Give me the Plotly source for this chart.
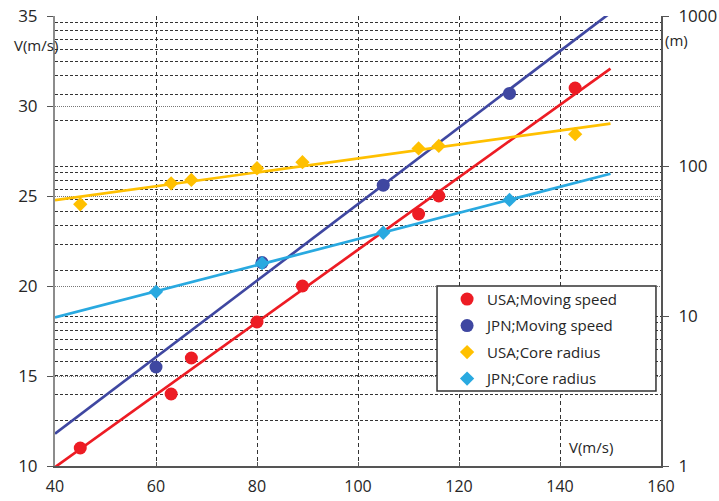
import numpy as np
import plotly.graph_objects as go

# Wind speed (m/s) at which each vortex was observed
usa_v = [45, 63, 67, 80, 89, 112, 116, 143]
jpn_v = [60, 81, 105, 130]

# Moving speed (m/s), left axis
usa_speed = [11, 14, 16, 18, 20, 24, 25, 31]
jpn_speed = [15.5, 21.3, 25.6, 30.7]

# Core radius (m), right log axis
usa_core = [55.6, 76.7, 80.7, 96.6, 106, 131, 136, 163]
jpn_core = [14.5, 22.5, 35.9, 59.4]

x_ticks = [40, 60, 80, 100, 120, 140, 160]
left_ticks = [10, 15, 20, 25, 30, 35]
right_ticks = [1, 10, 100, 1000]
right_minor = [m * d for d in (1, 10, 100) for m in range(2, 10)]

RED = "#ED1C24"
NAVY = "#3F47A1"
GOLD = "#FFC000"
SKY = "#29A9E0"
FONT = "Open Sans"
TXT = "#262626"

fit_x = np.array([40, 150])


def linear_fit(x, y):
    a, b = np.polyfit(x, y, 1)
    return a * fit_x + b


def exp_fit(x, y):
    a, b = np.polyfit(x, np.log10(y), 1)
    return 10 ** (a * fit_x + b)


fig = go.Figure()

# trend lines
fig.add_trace(go.Scatter(x=fit_x, y=linear_fit(usa_v, usa_speed), mode="lines",
                         line=dict(color=RED, width=2.7), showlegend=False, yaxis="y"))
fig.add_trace(go.Scatter(x=fit_x, y=linear_fit(jpn_v, jpn_speed), mode="lines",
                         line=dict(color=NAVY, width=2.7), showlegend=False, yaxis="y"))

# observed points
fig.add_trace(go.Scatter(x=usa_v, y=usa_speed, mode="markers", name="USA;Moving speed",
                         marker=dict(color=RED, size=13, symbol="circle"),
                         legendgroup="a", yaxis="y"))
fig.add_trace(go.Scatter(x=jpn_v, y=jpn_speed, mode="markers", name="JPN;Moving speed",
                         marker=dict(color=NAVY, size=13, symbol="circle"),
                         legendgroup="b", yaxis="y"))

fig.add_trace(go.Scatter(x=fit_x, y=exp_fit(usa_v, usa_core), mode="lines",
                         line=dict(color=GOLD, width=2.7), showlegend=False, yaxis="y2"))
fig.add_trace(go.Scatter(x=fit_x, y=exp_fit(jpn_v, jpn_core), mode="lines",
                         line=dict(color=SKY, width=2.7), showlegend=False, yaxis="y2"))
fig.add_trace(go.Scatter(x=usa_v, y=usa_core, mode="markers", name="USA;Core radius",
                         marker=dict(color=GOLD, size=11, symbol="diamond"),
                         legendgroup="c", yaxis="y2"))
fig.add_trace(go.Scatter(x=jpn_v, y=jpn_core, mode="markers", name="JPN;Core radius",
                         marker=dict(color=SKY, size=11, symbol="diamond"),
                         legendgroup="d", yaxis="y2"))

fig.update_layout(
    width=719, height=501,
    margin=dict(l=55, r=58, t=16, b=35, autoexpand=False),
    paper_bgcolor="white", plot_bgcolor="white",
    font=dict(family=FONT, size=17, color=TXT),
    xaxis=dict(
        range=[40, 160], tickmode="array", tickvals=x_ticks,
        showgrid=True, gridcolor="#333333", griddash="4px,3px", gridwidth=1,
        showline=True, linecolor="#555555", linewidth=2,
        ticks="inside", ticklen=4, tickcolor="#555555",
        tickfont=dict(size=16), ticklabelstandoff=5,
        zeroline=False, automargin=False,
    ),
    yaxis=dict(
        range=[10, 35], tickmode="array", tickvals=left_ticks,
        showgrid=True, gridcolor="#777777", griddash="1px,1px", gridwidth=1,
        showline=True, linecolor="#8c8c8c", linewidth=2,
        ticks="outside", ticklen=6, tickcolor="#555555",
        ticklabelstandoff=6, zeroline=False, automargin=False,
    ),
    yaxis2=dict(
        type="log", range=[0, 3], overlaying="y", side="right",
        tickmode="array", tickvals=right_ticks, ticktext=[str(t) for t in right_ticks],
        showgrid=True, gridcolor="#333333", griddash="3px,2px", gridwidth=1,
        minor=dict(tickmode="array", tickvals=right_minor, showgrid=True,
                   gridcolor="#333333", griddash="3px,2px", gridwidth=1, ticks=""),
        showline=True, linecolor="#555555", linewidth=2,
        ticks="outside", ticklen=6, tickcolor="#555555",
        ticklabelstandoff=6, zeroline=False, automargin=False,
    ),
    legend=dict(
        x=0.647, y=0.407, xanchor="left", yanchor="top",
        bgcolor="rgba(0,0,0,0)", borderwidth=0,
        font=dict(family=FONT, size=15, color=TXT),
        tracegroupgap=4,
    ),
    shapes=[dict(type="rect", xref="paper", yref="paper",
                 x0=0.6304, x1=0.9917, y0=0.1667, y1=0.4,
                 line=dict(color="#333333", width=1.5), fillcolor="white", layer="above")],
    annotations=[
        dict(text="V(m/s)", xref="paper", yref="paper", x=-0.031, y=0.936,
             xanchor="center", yanchor="middle", showarrow=False, font=dict(size=15)),
        dict(text="(m)", xref="paper", yref="paper", x=1.025, y=0.947,
             xanchor="center", yanchor="middle", showarrow=False, font=dict(size=15)),
        dict(text="V(m/s)", xref="paper", yref="paper", x=0.884, y=0.042,
             xanchor="center", yanchor="middle", showarrow=False, font=dict(size=15)),
    ],
)

fig.write_html("out.html")
